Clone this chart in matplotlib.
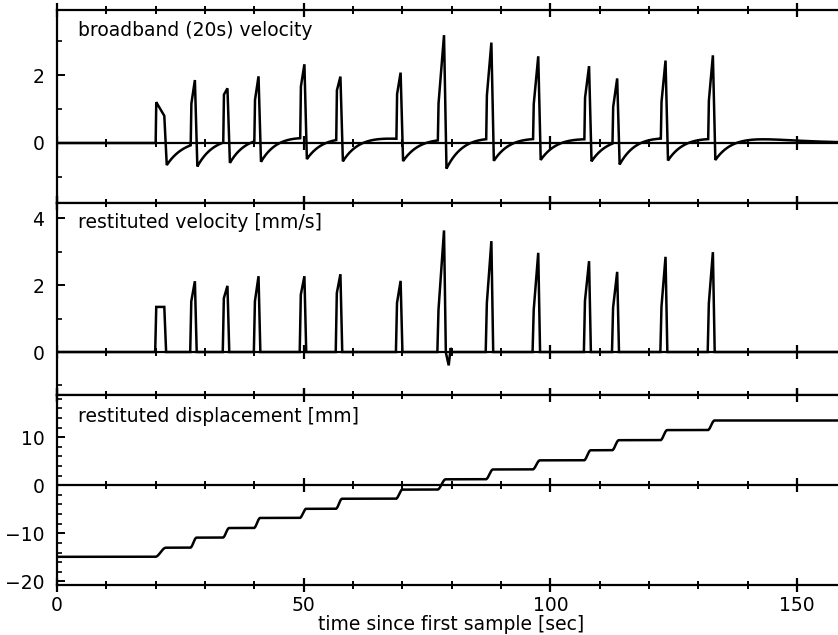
import numpy as np
import matplotlib
matplotlib.use('Agg')
import matplotlib.pyplot as plt

# ---- data ----
# time at which each pulse drops (end of pulse) [s]
drop_times = [21.8, 28.0, 34.6, 40.9, 50.2, 57.5, 69.7, 78.5, 88.1, 97.6, 107.9, 113.6, 123.4, 133.0]
# pulse durations [s]
durations = [1.8, 0.9, 0.9, 0.9, 0.9, 0.9, 0.9, 1.3, 1.1, 1.1, 1.0, 1.0, 1.0, 1.0]
# broadband (20 s) velocity: value just after onset, value just before the drop, trough
bb_onset = [1.20, 1.20, 1.40, 1.20, 1.50, 1.45, 1.30, 1.05, 1.25, 1.00, 1.20, 1.05, 1.05, 1.10]
bb_peaks = [0.80, 1.88, 1.56, 1.88, 2.17, 1.85, 1.95, 3.08, 2.83, 2.43, 2.15, 1.87, 2.29, 2.46]
bb_troughs = [-0.65, -0.68, -0.65, -0.65, -0.62, -0.65, -0.65, -0.85, -0.65, -0.62, -0.65, -0.68, -0.65, -0.62]
# restituted velocity [mm/s]: value just after onset, peak, after-dip
rv_onset = [1.35, 1.50, 1.60, 1.50, 1.70, 1.75, 1.45, 1.20, 1.40, 1.20, 1.50, 1.30, 1.30, 1.40]
rv_peaks = [1.35, 2.12, 1.98, 2.27, 2.27, 2.33, 2.13, 3.64, 3.32, 2.97, 2.72, 2.40, 2.85, 2.99]
rv_undershoot = [0, 0, 0, 0, 0, 0, 0, -0.4, 0, 0, 0, 0, 0, 0]
# restituted displacement plateaus [mm]
disp_levels = [-14.9, -13.0, -10.9, -8.9, -6.8, -4.9, -2.8, -0.9, 1.25, 3.3, 5.2, 7.3, 9.4, 11.5, 13.5]

panel_titles = ["broadband (20s) velocity", "restituted velocity [mm/s]", "restituted displacement [mm]"]
x_label = "time since first sample [sec]"

# ---- build traces ----
t = np.linspace(0, 160, 16001)
bb = np.zeros_like(t)
rv = np.zeros_like(t)
disp = np.full_like(t, disp_levels[0])

tau1, tau2 = 6.5, 5.5
for i, te in enumerate(drop_times):
    ts = te - durations[i]
    Tr = bb_troughs[i]
    # broadband pulse
    xp = [ts, ts + 0.12, te - 0.05, te + 0.45]
    yp = [0, bb_onset[i], bb_peaks[i], Tr]
    m = (t >= ts) & (t <= te + 0.45)
    bb[m] += np.interp(t[m], xp, yp)
    s = t - (te + 0.45)
    m2 = s > 0
    bb[m2] += Tr * (1 - s[m2] / tau1) * np.exp(-s[m2] / tau2)
    # restituted velocity pulse
    xr = [ts - 0.1, ts + 0.1, te - 0.05, te + 0.3, te + 0.9, te + 1.3, te + 1.6]
    yr = [0, rv_onset[i], rv_peaks[i], 0, rv_undershoot[i], -0.3 * rv_undershoot[i], 0]
    mr = (t >= ts - 0.1) & (t <= te + 1.6)
    rv[mr] += np.interp(t[mr], xr, yr)
    # displacement step
    a, b = ts - 0.1, te + 0.3
    u = np.clip((t - a) / (b - a), 0, 1)
    sm = 0.5 - 0.5 * np.cos(np.pi * u)
    disp += (disp_levels[i + 1] - disp_levels[i]) * sm

# ---- figure ----
W, H = 838, 635
fig = plt.figure(figsize=(W / 100, H / 100), dpi=100)
plt.rcParams['font.family'] = ['DejaVu Sans']
FS = 13.5

left = 57 / W
width = (845 - 57) / W
xlim = (0, (845 - 57) / 4.9333)

panels = [
    dict(px=(10, 203), ylim=(-1.765, 3.912), major=[0, 2], minor=[-1, 1, 3], y=bb),
    dict(px=(203, 395), ylim=(-1.287, 4.461), major=[0, 2, 4], minor=[-1, 1, 3], y=rv),
    dict(px=(395, 585), ylim=(-20.77, 18.81), major=[-20, -10, 0, 10],
         minor=list(range(-20, 19, 2)), y=disp),
]
title_y = [30, 222, 417]

xmajor = [0, 50, 100, 150]
xminor = list(range(0, 160, 10))
axes = []
for k, p in enumerate(panels):
    top_px, bot_px = p['px']
    ax = fig.add_axes([left, (H - bot_px) / H, width, (bot_px - top_px) / H])
    axes.append(ax)
    ax.set_xlim(*xlim)
    ax.set_ylim(*p['ylim'])
    ax.plot(t, p['y'], color='black', lw=1.8, zorder=3, solid_joinstyle='miter')
    ax.axhline(0, color='black', lw=1.6, zorder=2)
    # ticks on the zero line
    ax.plot([x for x in xminor if x not in xmajor], [0] * 12, ls='none', marker='|',
            ms=6, mew=1.4, color='black', zorder=2)
    ax.plot(xmajor, [0] * 4, ls='none', marker='|', ms=10, mew=1.6, color='black', zorder=2)
    for sp in ['top', 'bottom', 'left']:
        ax.spines[sp].set_linewidth(1.6)
    ax.spines['right'].set_visible(False)
    ax.set_xticks(xmajor)
    ax.set_xticks(xminor, minor=True)
    ax.set_yticks(p['major'])
    ax.set_yticks(p['minor'], minor=True)
    ax.tick_params(axis='x', which='major', direction='inout', length=10, width=1.6,
                   top=True, bottom=True, labelbottom=(k == 2), labelsize=FS, pad=3)
    ax.tick_params(axis='x', which='minor', direction='inout', length=6, width=1.4,
                   top=True, bottom=True)
    ax.tick_params(axis='y', which='major', direction='in', length=6, width=1.4,
                   labelsize=FS, pad=9)
    ax.tick_params(axis='y', which='minor', direction='in', length=3.5, width=1.2)
    ax.text((78 - 57) / (845 - 57), (bot_px - title_y[k]) / (bot_px - top_px),
            panel_titles[k], transform=ax.transAxes, ha='left', va='center', fontsize=FS)

axes[2].set_xlabel(x_label, fontsize=FS, labelpad=0)

fig.savefig('out.png', dpi=100)
